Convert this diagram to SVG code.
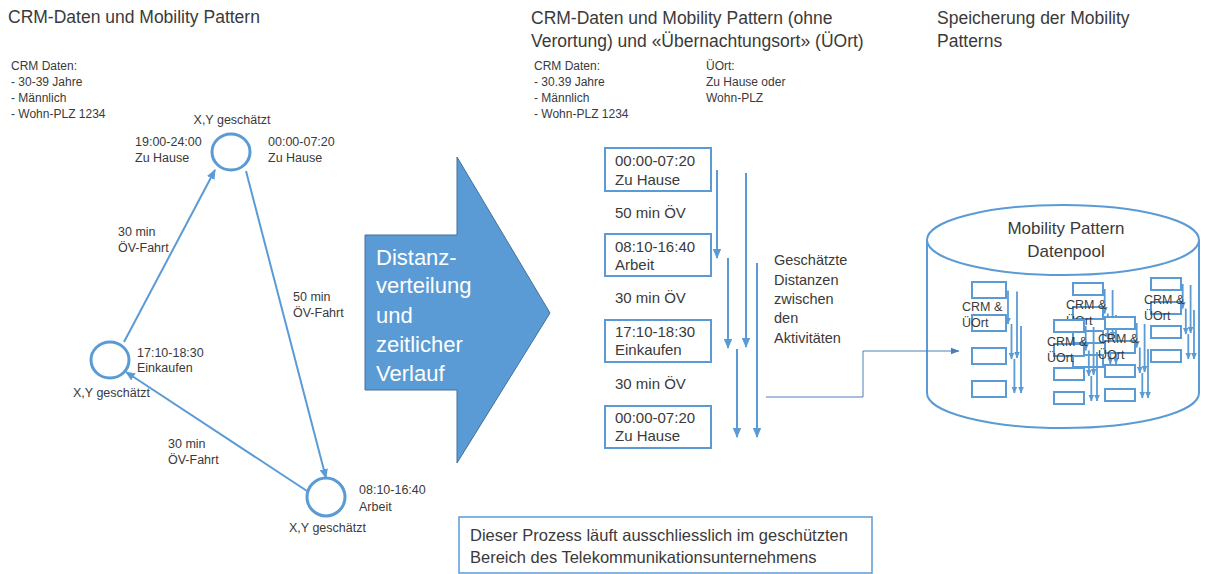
<svg xmlns="http://www.w3.org/2000/svg" width="1206" height="574" viewBox="0 0 1206 574">
<style>
text{font-family:"Liberation Sans",Arial,sans-serif;fill:#3A3A3A}
.t{font-size:17.5px}
.s{font-size:12px}
.c{font-size:12.5px}
.m{font-size:15px}
.g{font-size:14.5px}
.w{font-size:22px;fill:#fff}
.b{font-size:16.5px}
.cy{font-size:17px}
.node{fill:#fff;stroke:#5B9BD5;stroke-width:3}
.arr{stroke:#5B9BD5;stroke-width:2;fill:none;marker-end:url(#ah)}
.box{fill:#fff;stroke:#5B9BD5;stroke-width:2}
.ma{stroke:#5B9BD5;stroke-width:1.8;marker-end:url(#mh)}
.mt{font-size:12.5px}
</style>
<defs>
<marker id="ah" markerWidth="10" markerHeight="10" refX="9" refY="5" orient="auto" markerUnits="userSpaceOnUse"><path d="M0,0.8 L10,5 L0,9.2 z" fill="#5B9BD5"/></marker>
<marker id="mh" markerWidth="7" markerHeight="7" refX="6.5" refY="3.5" orient="auto" markerUnits="userSpaceOnUse"><path d="M0,0.5 L7,3.5 L0,6.5 z" fill="#5B9BD5"/></marker>
<marker id="th" markerWidth="9" markerHeight="9" refX="8.5" refY="4.5" orient="auto" markerUnits="userSpaceOnUse"><path d="M0,1 L9,4.5 L0,8 z" fill="#4A7EBB"/></marker>
<g id="miniL">
<rect class="box" x="0" y="0" width="34" height="16"/>
<rect class="box" x="0" y="33" width="34" height="16"/>
<rect class="box" x="0" y="66" width="34" height="16"/>
<rect class="box" x="0" y="99" width="34" height="16"/>
<line class="ma" x1="36" y1="8.5" x2="36" y2="42"/>
<line class="ma" x1="45" y1="9.6" x2="45" y2="76"/>
<line class="ma" x1="39.5" y1="42" x2="39.5" y2="77"/>
<line class="ma" x1="49" y1="44" x2="49" y2="111"/>
<line class="ma" x1="42.4" y1="77" x2="42.4" y2="111"/>
<text class="mt" x="-10" y="29">CRM &amp;</text>
<text class="mt" x="-10" y="45">ÜOrt</text>
</g>
<g id="miniS">
<rect class="box" x="0" y="0" width="30" height="12"/>
<rect class="box" x="0" y="24" width="30" height="12"/>
<rect class="box" x="0" y="48" width="30" height="12"/>
<rect class="box" x="0" y="72" width="30" height="12"/>
<line class="ma" x1="31.7" y1="6" x2="31.7" y2="30.5"/>
<line class="ma" x1="39.6" y1="7" x2="39.6" y2="55"/>
<line class="ma" x1="34.8" y1="30.5" x2="34.8" y2="56"/>
<line class="ma" x1="43" y1="32" x2="43" y2="81"/>
<line class="ma" x1="37.3" y1="56" x2="37.3" y2="81"/>
<text class="mt" x="-7" y="26">CRM &amp;</text>
<text class="mt" x="-7" y="42">ÜOrt</text>
</g>
</defs>
<rect width="1206" height="574" fill="#fff"/>

<g id="titles">
<text class="t" x="8" y="23">CRM-Daten und Mobility Pattern</text>
<text class="t" x="531" y="24">CRM-Daten und Mobility Pattern (ohne</text>
<text class="t" x="531" y="47">Verortung) und «Übernachtungsort» (ÜOrt)</text>
<text class="t" x="937" y="24">Speicherung der Mobility</text>
<text class="t" x="937" y="47">Patterns</text>
</g>

<g id="crm-left">
<text class="s" x="11" y="70">CRM Daten:</text>
<text class="s" x="11" y="86">- 30-39 Jahre</text>
<text class="s" x="11" y="102">- Männlich</text>
<text class="s" x="11" y="118">- Wohn-PLZ 1234</text>
</g>

<g id="crm-mid">
<text class="s" x="534" y="70">CRM Daten:</text>
<text class="s" x="534" y="86">- 30.39 Jahre</text>
<text class="s" x="534" y="102">- Männlich</text>
<text class="s" x="534" y="118">- Wohn-PLZ 1234</text>
<text class="s" x="706" y="70">ÜOrt:</text>
<text class="s" x="706" y="86">Zu Hause oder</text>
<text class="s" x="706" y="102">Wohn-PLZ</text>
</g>

<g id="node-home">
<ellipse class="node" cx="231" cy="152" rx="19" ry="18"/>
<text class="c" x="232" y="124" text-anchor="middle">X,Y geschätzt</text>
<text class="c" x="135" y="146">19:00-24:00</text>
<text class="c" x="135" y="162">Zu Hause</text>
<text class="c" x="268" y="146">00:00-07:20</text>
<text class="c" x="268" y="162">Zu Hause</text>
</g>

<g id="node-shop">
<ellipse class="node" cx="110" cy="360" rx="19" ry="18"/>
<text class="c" x="137" y="357">17:10-18:30</text>
<text class="c" x="137" y="372">Einkaufen</text>
<text class="c" x="73" y="397">X,Y geschätzt</text>
</g>

<g id="node-work">
<ellipse class="node" cx="326" cy="497" rx="19" ry="19"/>
<text class="c" x="359" y="494">08:10-16:40</text>
<text class="c" x="359" y="511">Arbeit</text>
<text class="c" x="289" y="532">X,Y geschätzt</text>
</g>

<g id="big-arrow">
<path d="M365,235 H457 V157 L550,313 L457,463 V390 H365 Z" fill="#5B9BD5" stroke="#41719C" stroke-width="1"/>
<text class="w" x="376" y="265">Distanz-</text>
<text class="w" x="376" y="293">verteilung</text>
<text class="w" x="376" y="323">und</text>
<text class="w" x="376" y="352">zeitlicher</text>
<text class="w" x="376" y="381">Verlauf</text>
</g>

<g id="pattern-column">
<rect class="box" x="605" y="148" width="106" height="43"/>
<text class="m" x="615" y="166">00:00-07:20</text>
<text class="m" x="615" y="185">Zu Hause</text>
<text class="m" x="615" y="218">50 min ÖV</text>
<rect class="box" x="605" y="234" width="106" height="42"/>
<text class="m" x="615" y="252">08:10-16:40</text>
<text class="m" x="615" y="270">Arbeit</text>
<text class="m" x="615" y="303">30 min ÖV</text>
<rect class="box" x="605" y="320" width="106" height="42"/>
<text class="m" x="615" y="337">17:10-18:30</text>
<text class="m" x="615" y="355">Einkaufen</text>
<text class="m" x="615" y="389">30 min ÖV</text>
<rect class="box" x="605" y="406" width="106" height="42"/>
<text class="m" x="615" y="423">00:00-07:20</text>
<text class="m" x="615" y="441">Zu Hause</text>
</g>

<g id="distances-label">
<text class="g" x="774" y="265">Geschätzte</text>
<text class="g" x="774" y="285">Distanzen</text>
<text class="g" x="774" y="304">zwischen</text>
<text class="g" x="774" y="323">den</text>
<text class="g" x="774" y="343">Aktivitäten</text>
</g>

<g id="datapool">
<path d="M927,240 V393 A136,35 0 0 0 1199,393 V240" fill="#fff" stroke="#5B9BD5" stroke-width="2"/>
<ellipse cx="1063" cy="240" rx="136" ry="35" fill="#fff" stroke="#5B9BD5" stroke-width="2"/>
<text class="cy" x="1066" y="234" text-anchor="middle">Mobility Pattern</text>
<text class="cy" x="1066" y="257" text-anchor="middle">Datenpool</text>
</g>

<g id="connectors">
<line class="arr" x1="124" y1="342" x2="215" y2="170"/>
<line class="arr" x1="246" y1="171" x2="326" y2="478"/>
<line class="arr" x1="307" y1="491" x2="126" y2="372"/>
<text class="c" x="118" y="236">30 min</text>
<text class="c" x="118" y="252">ÖV-Fahrt</text>
<text class="c" x="293" y="301">50 min</text>
<text class="c" x="293" y="317">ÖV-Fahrt</text>
<text class="c" x="168" y="448">30 min</text>
<text class="c" x="168" y="464">ÖV-Fahrt</text>
<line class="arr" x1="717" y1="170" x2="717" y2="258"/>
<line class="arr" x1="746" y1="173" x2="746" y2="347"/>
<line class="arr" x1="728" y1="258" x2="728" y2="348"/>
<line class="arr" x1="757" y1="263" x2="757" y2="437"/>
<line class="arr" x1="737" y1="349" x2="737" y2="437"/>
<path d="M766,397 H863 V351 H959" fill="none" stroke="#4A7EBB" stroke-width="1" marker-end="url(#th)"/>
</g>

<g id="pattern-1"><use href="#miniL" x="972" y="282"/></g>
<g id="pattern-2"><use href="#miniS" x="1151" y="278"/></g>
<g id="pattern-3"><use href="#miniS" x="1073" y="283"/></g>
<g id="pattern-4"><use href="#miniS" x="1054" y="320"/></g>
<g id="pattern-5"><use href="#miniS" x="1105" y="317"/></g>

<g id="note">
<rect x="459" y="517" width="413" height="56" fill="#fff" stroke="#5B9BD5" stroke-width="1.5"/>
<text class="b" x="470" y="541">Dieser Prozess läuft ausschliesslich im geschützten</text>
<text class="b" x="470" y="563">Bereich des Telekommunikationsunternehmens</text>
</g>
</svg>
